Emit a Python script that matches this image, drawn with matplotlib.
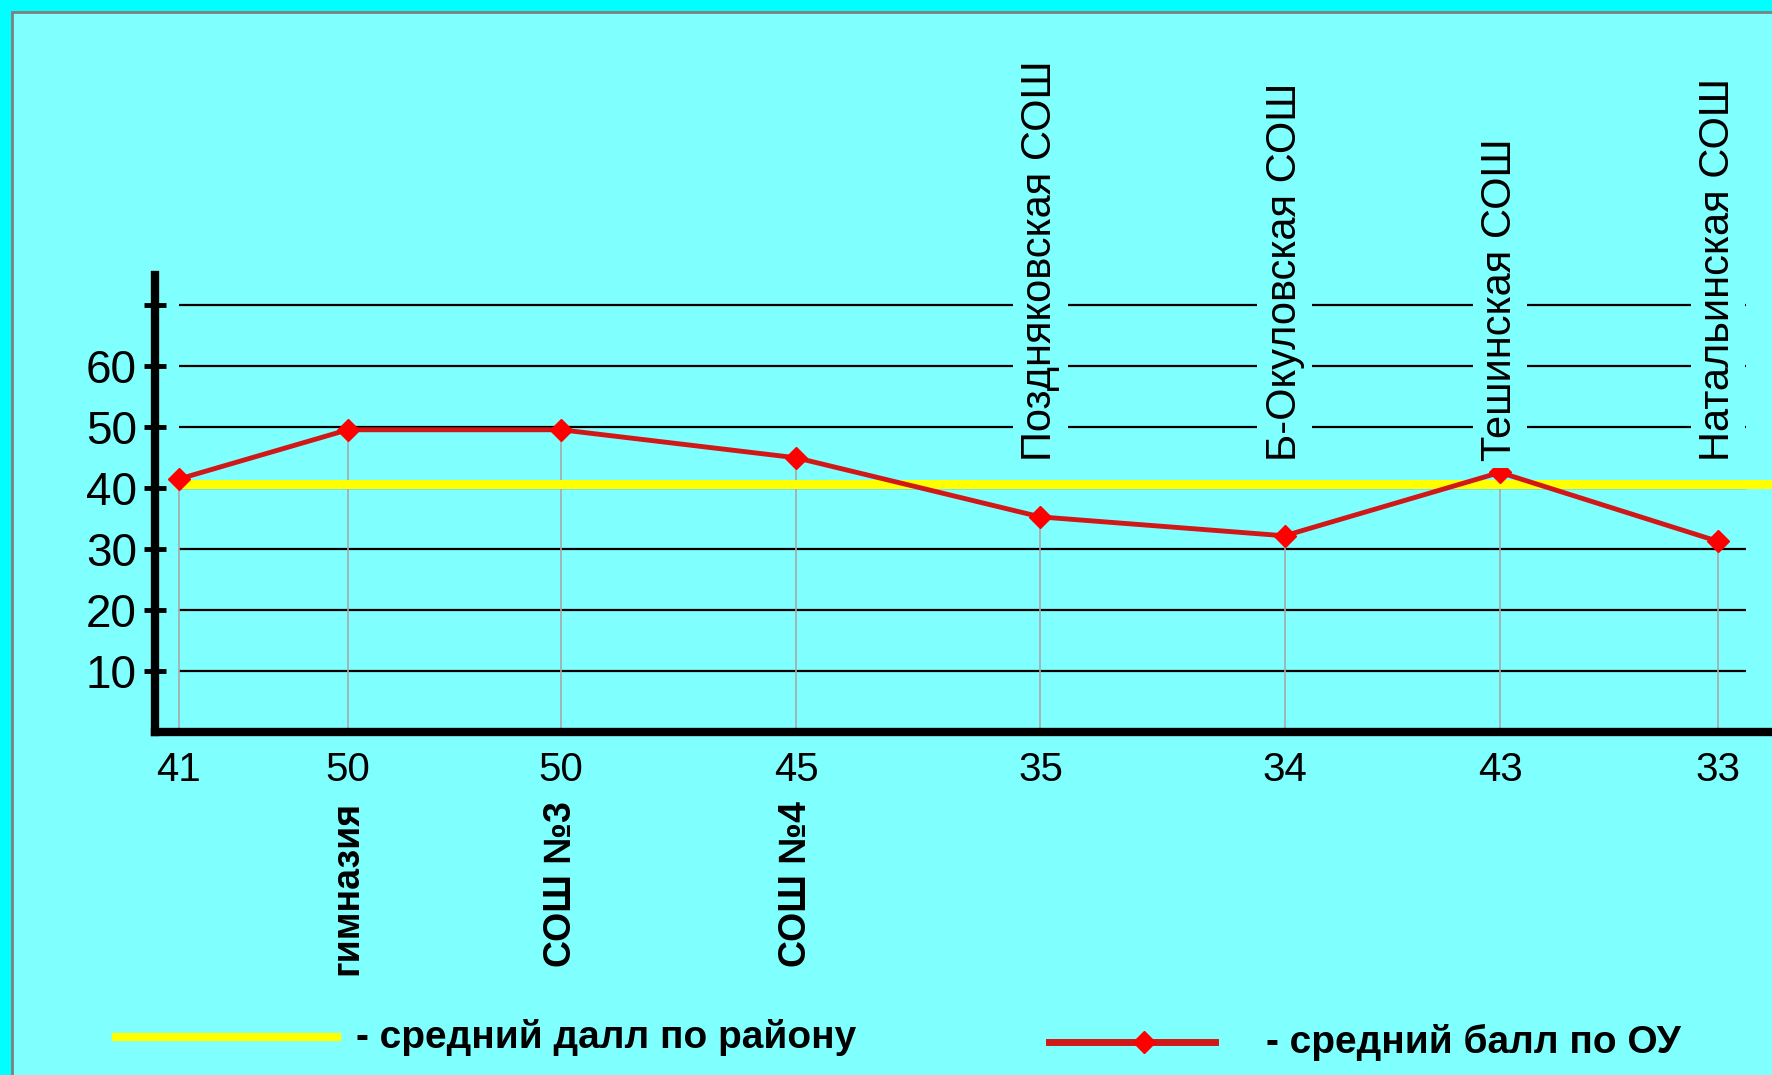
import matplotlib.pyplot as plt
from matplotlib.patches import Rectangle
from matplotlib.lines import Line2D

plt.rcParams['font.family'] = ['Liberation Sans', 'DejaVu Sans']

# данные, как они нарисованы на картинке
x_pos = [0, 0.77, 1.74, 2.81, 3.92, 5.03, 6.01, 7.0]
ou_vals = [41.5, 49.6, 49.6, 45, 35.3, 32.2, 42.6, 31.3]
val_labels = ['41', '50', '50', '45', '35', '34', '43', '33']
names_bottom = ['', 'гимназия', 'СОШ №3', 'СОШ №4', '', '', '', '']
names_top = ['', '', '', '', 'Поздняковская СОШ', 'Б-Окуловская СОШ',
             'Тешинская СОШ', 'Натальинская СОШ']
district_avg = 40.7
yticks = [10, 20, 30, 40, 50, 60, 70]
ytick_labels = ['10', '20', '30', '40', '50', '60', '']

W, H = 1772, 1075
bg = '#80FFFF'
fig = plt.figure(figsize=(W / 100, H / 100), dpi=100, facecolor='#00FFFF')

# внутренняя панель
fig.patches.append(Rectangle((12 / W, -0.02), 1.1, 1 - 12 / H + 0.02, transform=fig.transFigure,
                             facecolor=bg, edgecolor='#808080', lw=2, zorder=-1))

ax = fig.add_axes([155 / W, (H - 732) / H, (W - 155) / W, (732 - 275) / H])
ax.set_zorder(2)
ax.patch.set_visible(False)
ax.set_xlim(-0.107, 7.247)
ax.set_ylim(0, 75)

for s in ['top', 'right']:
    ax.spines[s].set_visible(False)
ax.spines['left'].set_linewidth(6)
ax.spines['bottom'].set_linewidth(6)

ax.set_xticks([])
ax.set_yticks(yticks, ytick_labels)
ax.tick_params(axis='y', direction='inout', length=16, width=3.5, labelsize=33, pad=5, colors='black')

# сетка
ax.hlines(yticks, 0, 7.13, color='black', lw=1.6, zorder=1)
# вертикальные линии от точек
ax.vlines(x_pos, 0, ou_vals, color='#A8A8A8', lw=1.2, zorder=2)

# средний балл по району
ax.axhline(district_avg, xmin=0.107 / 7.354, xmax=1, color='#FFFF00', lw=6.5, zorder=3)

# средний балл по ОУ
ax.plot(x_pos, ou_vals, color='#D01818', lw=3.5, marker='D', ms=11,
        mfc='#FF0000', mec='#FF0000', zorder=4)

for x, lab, nb, nt in zip(x_pos, val_labels, names_bottom, names_top):
    ax.text(x, -6.2, lab, ha='center', va='center', fontsize=29)
    if nb:
        ax.text(x, -11.3, nb, rotation=90, ha='center', va='top', fontsize=27, fontweight='bold')
    if nt:
        ax.text(x, 44.5, nt, rotation=90, ha='center', va='bottom', fontsize=30, zorder=6,
                bbox=dict(facecolor=bg, edgecolor='none', pad=5))

# легенда
y1 = 1 - 1037 / H
y2 = 1 - 1042 / H
fig.add_artist(Line2D([116 / W, 337 / W], [y1, y1], color='#FFFF00', lw=6))
fig.text(356 / W, y1, '- средний далл по району', fontsize=28, fontweight='bold', va='center')
fig.add_artist(Line2D([1049 / W, 1215 / W], [y2, y2], color='#D01818', lw=5))
fig.add_artist(Line2D([1144 / W], [y2], marker='D', ms=11, color='#FF0000'))
fig.text(1266 / W, y2, '- средний балл по ОУ', fontsize=28, fontweight='bold', va='center')

fig.savefig('out.png', dpi=100, facecolor=fig.get_facecolor())
